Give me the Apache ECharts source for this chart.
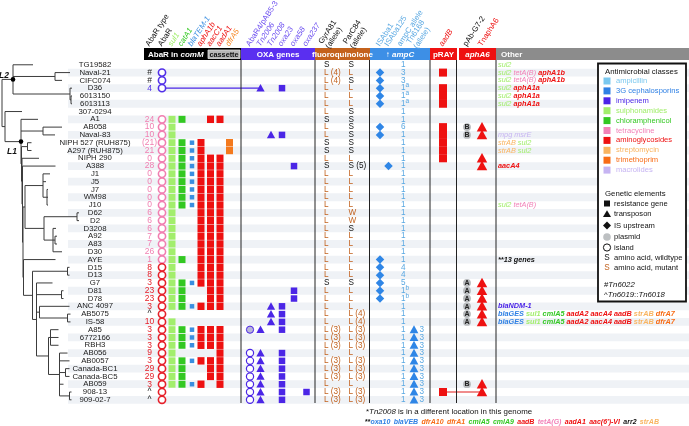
<!DOCTYPE html>
<html>
<head>
<meta charset="utf-8">
<script src="https://cdn.jsdelivr.net/npm/echarts@6/dist/echarts.min.js"></script>
<style>html,body{margin:0;padding:0;background:#fff;}#chart{width:689px;height:426px;}</style>
</head>
<body>
<div id="chart"></div>
<script>
// ================= DATA =================
const strains = ['TG19582','Naval-21','CIFC074','D36','6013150','6013113','307-0294','A1','AB058','Naval-83','NIPH 527 (RUH875)','A297 (RUH875)','NIPH 290','A388','J1','J5','J7','WM98','J10','D62','D2','D3208','A92','A83','D30','AYE','D15','D13','G7','D81','D78','ANC 4097','AB5075','IS-58','A85','6772166','RBH3','AB056','AB0057','Canada-BC1','Canada-BC5','AB059','908-13','909-02-7'];

// Tree: [name, branch length, children]
const treeBranches = ['', 0, [
  ['L2', 11, [
    ['TG19582', 20],
    ['', 42, [['Naval-21', 15], ['CIFC074', 7]]],
    ['', 57, [['D36', 2], ['', 1, [['6013150', 1], ['6013113', 1]]]]]
  ]],
  ['', 3, [
    ['307-0294', 17],
    ['L1', 16, [
      ['A1', 17],
      ['', 22, [['AB058', 19], ['Naval-83', 12]]],
      ['', 0.5, [
        ['', 6, [['NIPH 527 (RUH875)', 4], ['A297 (RUH875)', 4]]],
        ['', 0.5, [
          ['NIPH 290', 17],
          ['', 0.5, [
            ['A388', 33],
            ['', 0.5, [
              ['', 2, [
                ['', 18, [['J1', 7], ['J5', 3], ['', 4, [['J7', 1], ['WM98', 1], ['J10', 1]]]]],
                ['', 19, [['', 33, [['D62', 2], ['D2', 2]]], ['', 9, [['D3208', 3], ['', 2, [['A92', 2], ['A83', 2]]], ['D30', 9]]]]]
              ]],
              ['', 0.5, [
                ['AYE', 32],
                ['', 9, [
                  ['', 35, [['D15', 2], ['D13', 2]]],
                  ['', 4, [
                    ['G7', 16],
                    ['', 25, [['D81', 2], ['D78', 2]]],
                    ['', 3, [['ANC 4097', 30], ['', 28, [['AB5075', 3], ['IS-58', 3]]]]],
                    ['', 12, [
                      ['', 2, [['A85', 8], ['6772166', 8], ['RBH3', 8]]],
                      ['', 11, [['AB056', 8], ['AB0057', 10], ['', 6, [['Canada-BC1', 4], ['Canada-BC5', 4]]], ['AB059', 4], ['', 10, [['908-13', 2], ['909-02-7', 2]]]]]
                    ]]
                  ]]
                ]]
              ]]
            ]]
          ]]
        ]]
      ]]
    ]]
  ]]
]];

const abarType = ['','#','#','4','','','','24','10','10','(21)','21','0','28','0','0','0','0','0','6','6','6','7','7','26','1','8','8','3','23','23','3','^','10','3','3','3','9','3','29','29','3','^','^'];
// island lineage: P = purple, K = pink, R = red
const abarLineage = ['','P','P','P','','','','K','K','K','K','K','K','K','K','K','K','K','K','K','K','K','K','K','K','K','R','R','R','R','R','R','R','R','R','R','R','R','R','R','R','R','R','R'];

const abarGenes = {
  sul1:    [7,8,9,10,11,12,13,14,15,16,17,18,19,20,21,22,23,24,25,26,27,28,29,30,31,33,34,35,36,37,38,39,40,41],
  catA1:   [7,10,11,12,13,14,15,16,17,18,25,28,29,30,31,34,35,36,38,39,40,41],
  blaTEM1: [10,11,12,13,14,15,16,17,18,28,31,34,35,36,38,41],
  aphA1b:  [10,11,12,13,14,15,16,17,18,19,20,21,22,23,24,25,26,27,28,31,34,35,36,38,41],
  aacC1:   [7,12,13,14,15,16,17,18,19,20,21,22,23,24,25,26,27,28,29,30,31,34,35,36,38,39,40],
  aadA1:   [7,12,13,14,15,16,17,18,19,20,21,22,23,24,25,26,27,28,29,30,31,34,35,36,37,38,39,40,41],
  dfrA5:   [10,11]
};

const oxaIslandRows  = [37,38,39,40,41,42,43];
const oxaPlasmidRows = [34];
const tn2006Rows = [3,34,37,38,39,40,41,42,43];
const tn2008Rows = [9,31,32,33];
const oxa23Rows  = [3,9,31,32,33,34,37,38,39,40,41,42,43];
const oxa58Rows  = [13,29,30];
const oxa237Rows = [42];
const d36LinkRow = 3;

const gyrA = ['S','L (4)','L (4)','L','L','L','L','S','L','L','S','S','L','S','L','L','L','L','L','L','L','L','L','L','L','L','L','L','S','L','L','L','L','L','L (3)','L (3)','L (3)','L','L (3)','L (3)','L (3)','L','L (3)','L (3)'];
const parC = ['S','L','S','L','L','L','S','S','S','S','S','S','L','S (5)','L','L','L','L','L','W','W','S','L','L','L','L','L','L','S','L','L','L','L (4)','L (4)','L (3)','L (3)','L (3)','L','L (3)','L (3)','L (3)','L','L (3)','L (3)'];

const isAba1Rows   = [1,2,3,4,5,8,9,25,26,27,28,29,30];
const isAba125Rows = [13];
const ampCAllele = ['1','3','3','1a','1a','1a','1','1','6','1','1','1','1','1','1','1','1','1','1','1','1','1','1','1','1','1','4','4','5','1b','1b','1','1','1','1','1','1','1','1','1','1','1','1','1'];
const tn6168Rows = [34,35,36,37,38,39,40,41,42,43];
const tn6168Allele = '3';

const prayRows = [1,3,4,5,8,9,10,11,12,42];
const pAbG72 = {8:'B', 9:'B', 28:'A', 29:'A', 30:'A', 31:'A', 32:'A', 33:'A', 41:'B'};
const tnAphA6Rows = [8,9,12,13,28,29,30,31,32,33,41,42];
const prayLinkRow = 42;

const otherGenes = {
  0:  [['sul2','sul']],
  1:  [['sul2','sul'],['tetA(B)','tet'],['aphA1b','ami']],
  2:  [['sul2','sul'],['tetA(B)','tet'],['aphA1b','ami']],
  3:  [['sul2','sul'],['aphA1a','ami']],
  4:  [['sul2','sul'],['aphA1a','ami']],
  5:  [['sul2','sul'],['aphA1a','ami']],
  9:  [['mpg','mac'],['msrE','mac']],
  10: [['strAB','str'],['sul2','sul']],
  11: [['strAB','str'],['sul2','sul']],
  13: [['aacA4','ami']],
  18: [['sul2','sul'],['tetA(B)','tet']],
  25: [['**13 genes','blk']],
  31: [['blaNDM-1','imi']],
  32: [['blaGES','ceph'],['sul1','sul'],['cmlA5','chl'],['aadA2','ami'],['aacA4','ami'],['aadB','ami'],['strAB','str'],['dfrA7','tri']],
  33: [['blaGES','ceph'],['sul1','sul'],['cmlA5','chl'],['aadA2','ami'],['aacA4','ami'],['aadB','ami'],['strAB','str'],['dfrA7','tri']]
};

const abarHeaders = ['AbaR type','AbaR','sul1','catA1','blaTEM-1','aphA1b','aacC1','aadA1','dfrA5'];
const oxaHeaders  = ['AbaR4/pAB5-3','Tn2006','Tn2008','oxa23','oxa58','oxa237'];
const fqHeaders   = ['GyrA81\n(allele)','ParC84\n(allele)'];
const ampCHeaders = ['ISAba1','ISAba125','ampC allele','Tn6168\n(allele)'];
const prayHeaders = ['aadB'];
const aphA6Headers = ['pAb-G7-2','TnaphA6'];
const bandLabels = ['AbaR in comM','OXA genes','fluoroquinolone','\u2191 ampC','pRAY','aphA6','Other'];

const legendClasses = [['ampicillin','amp'],['3G cephalosporins','ceph'],['imipenem','imi'],['sulphonamides','sul'],['chloramphenicol','chl'],['tetracycline','tet'],['aminoglycosides','ami'],['streptomycin','str'],['trimethoprim','tri'],['macrolides','mac']];
const legendElements = ['resistance gene','transposon','IS upstream','plasmid','island','amino acid, wildtype','amino acid, mutant'];
const note2Genes = [['oxa10','ceph'],['blaVEB','ceph'],['dfrA10','tri'],['dfrA1','tri'],['cmlA5','chl'],['cmlA9','chl'],['aadB','ami'],['tetA(G)','tet'],['aadA1','ami'],["aac(6')-VI",'ami'],['arr2','blk'],['strAB','str']];

// ================= STYLE / LAYOUT =================
const FONT = '"Liberation Sans", Arial, Helvetica, sans-serif';
const C = { amp:'#7ac8ef', ceph:'#2f80e4', imi:'#4b24e8', sul:'#a2ee6c', chl:'#33c822', tet:'#f282b8', ami:'#ee1111', str:'#f9b460', tri:'#f86c16', mac:'#c6b4f2', blk:'#111' };
const LIN = { P:'#5230e8', K:'#f17fb1', R:'#e6202a' };
const MUT = '#c2621f';
const OXA = '#4b26e6';
const AMPC_MARK = '#2f86e6', AMPC_TXT = '#5aa8e2';
const TOP = 60.9, H = 342.8;
const col = { name:95, abarType:149.5, abar:162, sul1:172, catA1:182, blaTEM1:192, aphA1b:201, aacC1:210.5, aadA1:220, dfrA5:229.5,
  abar4:250, tn2006:260.5, tn2008:271, oxa23:282, oxa58:294, oxa237:306.5,
  gyrA:324, parC:348.5, isAba1:380, isAba125:388.5, ampC:401, tn6168:414, aadB:443, pAb:467, tnAphA6:482, other:498 };
const headerCols = {
  abar: [['abarType','#111',0],['abar','#111',0],['sul1',C.sul,1],['catA1',C.chl,1],['blaTEM1','#3a8ee0',1],['aphA1b',C.ami,1],['aacC1',C.ami,1],['aadA1',C.ami,1],['dfrA5','#f68a2a',1]],
  oxa: [['abar4','#6a4cf0',0],['tn2006','#6a4cf0',1],['tn2008','#6a4cf0',1],['oxa23','#6a4cf0',1],['oxa58','#6a4cf0',1],['oxa237','#6a4cf0',1]],
  fq: [['gyrA','#111',0],['parC','#111',0]],
  ampc: [['isAba1',AMPC_TXT,0],['isAba125',AMPC_TXT,0],['ampC',AMPC_TXT,0],['tn6168',AMPC_TXT,0]],
  pray: [['aadB',C.ami,1]],
  aph: [['pAb','#111',0],['tnAphA6',C.ami,0]]
};
const bands = [[144,97,'#000'],[241,74,'#5a2ff0'],[315,55,'#c4621c'],[370,60,'#3d8fe6'],[430,27,'#ee1111'],[459,37,'#ee1111'],[496,193,'#8c8c8c']];
const seps = [241, 315, 369.5, 430, 456.5, 496];

// ================= BUILD CELLS =================
const cells = [];
const add = o => cells.push(o);
const f = (w, s, sz) => `${s||'normal'} ${w||'normal'} ${sz}px ${FONT}`;

add({k:'hline', x:col.abar, x2:col.tn2006, row:d36LinkRow, color:OXA, lw:1.2});
add({k:'hline', x:col.aadB, x2:col.tnAphA6, row:prayLinkRow, color:'#e21a1a', lw:1.2});

strains.forEach((s, r) => {
  add({k:'text', x:col.name, row:r, text:s, color:'#1a1a1a', font:f('normal','normal',7.8), align:'center'});
  if (abarType[r]) {
    const colr = (abarType[r] === '#' || abarType[r] === '^') ? '#222' : LIN[abarLineage[r]];
    add({k:'text', x:col.abarType, row:r, text:abarType[r], color:colr, font:f('normal','normal',8.5), align:'center'});
  }
  if (abarLineage[r]) add({k:'ring', x:col.abar, row:r, r:3.6, color:LIN[abarLineage[r]], lw:1.6});
  add({k:'text', x:col.gyrA, row:r, text:gyrA[r], color:gyrA[r][0]==='S'?'#111':MUT, font:f('normal','normal',8.2)});
  add({k:'text', x:col.parC, row:r, text:parC[r], color:parC[r][0]==='S'?'#111':MUT, font:f('normal','normal',8.2)});
  const al = ampCAllele[r];
  add({k:'text', x:col.ampC, row:r, text:al[0], color:AMPC_TXT, font:f('normal','normal',8.2)});
  if (al.length > 1) add({k:'text', x:col.ampC, dx:4.6, dy:-2.6, row:r, text:al.slice(1), color:AMPC_TXT, font:f('normal','normal',6.5)});
});
const geneStyle = { sul1:[7,7,C.sul], catA1:[7,7,C.chl], blaTEM1:[4.5,4.5,'#3a8ee0'], aphA1b:[7,7.4,C.ami], aacC1:[7,7.4,C.ami], aadA1:[7,7.4,C.ami], dfrA5:[7,7.4,'#f47a1e'] };
Object.keys(abarGenes).forEach(g => abarGenes[g].forEach(r => add({k:'sq', x:col[g], row:r, w:geneStyle[g][0], h:geneStyle[g][1], color:geneStyle[g][2]})));
oxaIslandRows.forEach(r => add({k:'ring', x:col.abar4, row:r, r:3.6, color:OXA, lw:1.2}));
oxaPlasmidRows.forEach(r => add({k:'ring', x:col.abar4, row:r, r:3.6, color:OXA, lw:1.0, fill:'#b9b7d9'}));
tn2006Rows.forEach(r => add({k:'tri', x:col.tn2006, row:r, s:7.5, color:OXA}));
tn2008Rows.forEach(r => add({k:'tri', x:col.tn2008, row:r, s:7.5, color:OXA}));
oxa23Rows.forEach(r => add({k:'sq', x:col.oxa23, row:r, w:6.5, h:6.5, color:OXA}));
oxa58Rows.forEach(r => add({k:'sq', x:col.oxa58, row:r, w:6.5, h:6.5, color:OXA}));
oxa237Rows.forEach(r => add({k:'sq', x:col.oxa237, row:r, w:6.5, h:6.5, color:OXA}));
isAba1Rows.forEach(r => add({k:'dia', x:col.isAba1, row:r, s:8.5, color:AMPC_MARK}));
isAba125Rows.forEach(r => add({k:'dia', x:col.isAba125, row:r, s:8.5, color:AMPC_MARK}));
tn6168Rows.forEach(r => {
  add({k:'tri', x:col.tn6168, row:r, s:8, color:AMPC_MARK});
  add({k:'text', x:col.tn6168, dx:5.5, row:r, text:tn6168Allele, color:AMPC_TXT, font:f('normal','normal',8.2)});
});
prayRows.forEach(r => add({k:'sq', x:col.aadB, row:r, w:8, h:8, color:'#ee1111'}));
tnAphA6Rows.forEach(r => add({k:'tri', x:col.tnAphA6, row:r, s:9.5, color:'#ee1111'}));
Object.keys(pAbG72).forEach(r => add({k:'badge', x:col.pAb, row:+r, text:pAbG72[r]}));

function richFor(bold, size) {
  const rich = {};
  Object.keys(C).forEach(k => {
    rich[k] = {fill:C[k], fontSize:size, fontFamily:FONT, fontStyle:'italic', fontWeight:(k==='ami'||bold)?'bold':'normal'};
  });
  return rich;
}
const boldRows = {25:1, 31:1, 32:1, 33:1};
Object.keys(otherGenes).forEach(r => {
  const toks = otherGenes[r];
  const text = toks.map(t => `{${t[1]}|${t[0]}}`).join(' ');
  add({k:'text', x:col.other, row:+r, text, rich:richFor(!!boldRows[r], 7.3), color:'#111', font:f('normal','italic',7.3)});
});

const stripeRows = strains.map((s, i) => i).filter(i => i % 2 === 1);

// ================= TREE LAYOUT =================
const segs = [], named = {};
(function lay(node, x0) {
  const name = node[0], len = node[1], kids = node[2];
  const x = x0 + len;
  if (!kids) return {x, y: strains.indexOf(name)};
  const ch = kids.map(k => lay(k, x));
  const y = (ch[0].y + ch[ch.length - 1].y) / 2;
  segs.push([x, ch[0].y, x, ch[ch.length - 1].y]);
  ch.forEach(c => segs.push([x, c.y, c.x, c.y]));
  if (name) named[name] = {x, y};
  return {x, y};
})(treeBranches, 0);

// ================= GRAPHICS (header, legend, notes) =================
const gfx = [];
bands.forEach(b => gfx.push({type:'rect', shape:{x:b[0], y:48, width:b[1], height:12}, style:{fill:b[2]}}));
const wRich = {n:{fill:'#fff', fontWeight:'bold', fontSize:8, fontFamily:FONT}, i:{fill:'#fff', fontWeight:'bold', fontStyle:'italic', fontSize:8, fontFamily:FONT}};
const bandText = (x, t, align, rich) => gfx.push({type:'text', x, y:54.5, style:{text:t, fill:'#fff', font:f('bold','normal',8), align, verticalAlign:'middle', rich}});
bandText(148, '{n|AbaR in }{i|comM}', 'left', wRich);
gfx.push({type:'rect', shape:{x:208, y:50, width:32, height:8.5}, style:{fill:'#b8b8b8', stroke:'#e0e0e0', lineWidth:0.8}});
gfx.push({type:'text', x:224, y:54.5, style:{text:'cassette', fill:'#111', font:f('bold','normal',7.3), align:'center', verticalAlign:'middle'}});
bandText(278, bandLabels[1], 'center');
bandText(342.5, bandLabels[2], 'center');
bandText(400, '{n|\u2191 }{i|ampC}', 'center', wRich);
bandText(443.5, bandLabels[4], 'center');
gfx.push({type:'text', x:477.5, y:54.5, style:{text:bandLabels[5], fill:'#fff', font:f('bold','italic',8), align:'center', verticalAlign:'middle'}});
bandText(501, bandLabels[6], 'left');
seps.forEach(x => gfx.push({type:'line', shape:{x1:x, y1:60, x2:x, y2:403}, style:{stroke:'#222', lineWidth:1}}));

const ROT = 57 * Math.PI / 180;
const headerGroups = [[abarHeaders, headerCols.abar], [oxaHeaders, headerCols.oxa], [fqHeaders, headerCols.fq], [ampCHeaders, headerCols.ampc], [prayHeaders, headerCols.pray], [aphA6Headers, headerCols.aph]];
headerGroups.forEach(([labels, cols]) => labels.forEach((t, i) => {
  const [key, color, ital] = cols[i];
  let x = col[key];
  if (key === 'gyrA' || key === 'parC') x += 2;
  gfx.push({type:'text', x:x - 2, y:45.5, rotation:ROT, style:{text:t, fill:color, font:f('normal', ital?'italic':'normal', 7.8), align:'left', verticalAlign:'middle', lineHeight:8.5}});
}));

gfx.push({type:'rect', shape:{x:598, y:63.5, width:88, height:238}, style:{fill:'#fff', stroke:'#111', lineWidth:1.8}});
gfx.push({type:'text', x:605, y:72, style:{text:'Antimicrobial classes', fill:'#111', font:f('normal','normal',7.8), verticalAlign:'middle'}});
legendClasses.forEach((lc, i) => {
  const y = 81 + i * 9.9;
  gfx.push({type:'rect', shape:{x:603.5, y:y - 3.5, width:7, height:7}, style:{fill:C[lc[1]]}});
  gfx.push({type:'text', x:616, y, style:{text:lc[0], fill:C[lc[1]], font:f('normal','normal',7.6), verticalAlign:'middle'}});
});
gfx.push({type:'text', x:605, y:193.5, style:{text:'Genetic elements', fill:'#111', font:f('normal','normal',7.8), verticalAlign:'middle'}});
const ey = [203.5, 214, 225.5, 237, 247.5, 257.5, 267.5];
gfx.push({type:'rect', shape:{x:604, y:ey[0]-3, width:6, height:6}, style:{fill:'#111'}});
gfx.push({type:'polygon', shape:{points:[[607,ey[1]-3.8],[611,ey[1]+3],[603,ey[1]+3]]}, style:{fill:'#111'}});
gfx.push({type:'polygon', shape:{points:[[607,ey[2]-4],[611,ey[2]],[607,ey[2]+4],[603,ey[2]]]}, style:{fill:'#111'}});
gfx.push({type:'circle', shape:{cx:607, cy:ey[3], r:3.8}, style:{fill:'#bdc0c2'}});
gfx.push({type:'circle', shape:{cx:607, cy:ey[4], r:3.6}, style:{fill:'#fff', stroke:'#111', lineWidth:1}});
gfx.push({type:'text', x:607, y:ey[5], style:{text:'S', fill:'#111', font:f('normal','normal',8.2), align:'center', verticalAlign:'middle'}});
gfx.push({type:'text', x:607, y:ey[6], style:{text:'S', fill:MUT, font:f('normal','normal',8.2), align:'center', verticalAlign:'middle'}});
legendElements.forEach((t, i) => gfx.push({type:'text', x:614, y:ey[i], style:{text:t, fill:'#111', font:f('normal','normal',7.6), verticalAlign:'middle'}}));
const itRich = {n:{fill:'#111', fontSize:7.8, fontFamily:FONT}, i:{fill:'#111', fontSize:7.8, fontFamily:FONT, fontStyle:'italic'}};
gfx.push({type:'text', x:604, y:284.5, style:{text:'{n|#}{i|Tn6022}', rich:itRich, verticalAlign:'middle'}});
gfx.push({type:'text', x:604, y:295, style:{text:'{n|^}{i|Tn6019}{n|::}{i|Tn6018}', rich:itRich, verticalAlign:'middle'}});

gfx.push({type:'text', x:366, y:412, style:{text:'{n|*}{i|Tn2008}{n| is in a different location in this genome}', rich:{n:{fill:'#111', fontSize:7.9, fontFamily:FONT}, i:{fill:'#111', fontSize:7.9, fontFamily:FONT, fontStyle:'italic'}}, verticalAlign:'middle'}});
const n2rich = richFor(true, 7); n2rich.s = {fill:'#111', fontSize:7, fontFamily:FONT, fontWeight:'bold'};
gfx.push({type:'text', x:365, y:422, style:{text:'{s|**}' + note2Genes.map(t => `{${t[1]}|${t[0]}}`).join(' '), rich:n2rich, verticalAlign:'middle'}});

// ================= CHART =================
const chart = echarts.init(document.getElementById('chart'), null, {renderer:'canvas'});
chart.setOption({
  animation: false,
  backgroundColor: '#fff',
  grid: [
    {left:0, right:0, top:TOP, height:H, containLabel:false},
    {left:2, width:100, top:TOP, height:H, containLabel:false}
  ],
  xAxis: [
    {type:'value', min:0, max:689, show:false, gridIndex:0},
    {type:'value', min:0, max:100, show:false, gridIndex:1}
  ],
  yAxis: [
    {type:'category', data:strains, inverse:true, gridIndex:0, show:false},
    {type:'value', min:-0.5, max:43.5, inverse:true, show:false, gridIndex:1}
  ],
  series: [
    {type:'custom', xAxisIndex:0, yAxisIndex:0, z:1, silent:true,
     data: stripeRows.map(r => [0, r]),
     renderItem: (params, api) => {
       const p = api.coord([68, api.value(1)]);
       const h = api.size([0, 1])[1];
       return {type:'rect', shape:{x:p[0], y:p[1] - h/2, width:689 - p[0], height:h}, style:{fill:'#eff2f6'}};
     }},
    {type:'custom', xAxisIndex:1, yAxisIndex:1, z:5, silent:true, data:[[0,0]],
     renderItem: (params, api) => {
       const children = segs.map(s => {
         const a = api.coord([s[0], s[1]]), b = api.coord([s[2], s[3]]);
         return {type:'line', shape:{x1:a[0], y1:a[1], x2:b[0], y2:b[1]}, style:{stroke:'#3c3c3c', lineWidth:1}};
       });
       ['L2','L1'].forEach(n => {
         const p = api.coord([named[n].x, named[n].y]);
         children.push({type:'circle', shape:{cx:p[0], cy:p[1], r:2.3}, style:{fill:'#000'}});
         children.push({type:'text', x:p[0] - 4, y:p[1] + (n==='L2'?-4:10), style:{text:n, fill:'#111', font:f('bold','italic',8.5), align:'right', verticalAlign:'middle'}});
       });
       return {type:'group', children};
     }},
    {type:'custom', xAxisIndex:0, yAxisIndex:0, z:6, silent:true,
     data: cells.map(c => [c.x, c.row]),
     renderItem: (params, api) => {
       const c = cells[params.dataIndex];
       const p = api.coord([c.x, c.row]);
       const x = p[0], y = p[1];
       switch (c.k) {
         case 'sq': return {type:'rect', shape:{x:x - c.w/2, y:y - c.h/2, width:c.w, height:c.h}, style:{fill:c.color}};
         case 'ring': return {type:'circle', shape:{cx:x, cy:y, r:c.r}, style:{fill:c.fill || '#fff', stroke:c.color, lineWidth:c.lw}};
         case 'tri': { const s = c.s; return {type:'polygon', shape:{points:[[x, y - s*0.55], [x + s*0.55, y + s*0.45], [x - s*0.55, y + s*0.45]]}, style:{fill:c.color}}; }
         case 'dia': { const s = c.s/2; return {type:'polygon', shape:{points:[[x, y - s], [x + s, y], [x, y + s], [x - s, y]]}, style:{fill:c.color}}; }
         case 'badge': return {type:'group', children:[
             {type:'circle', shape:{cx:x, cy:y, r:3.9}, style:{fill:'#b7babd'}},
             {type:'text', x:x, y:y + 0.3, style:{text:c.text, fill:'#222', font:f('bold','normal',7), align:'center', verticalAlign:'middle'}}]};
         case 'hline': { const q = api.coord([c.x2, c.row]); return {type:'line', shape:{x1:x, y1:y, x2:q[0], y2:q[1]}, style:{stroke:c.color, lineWidth:c.lw}}; }
         default: return {type:'text', x:x + (c.dx || 0), y:y + (c.dy || 0), style:{text:c.text, fill:c.color, font:c.font, align:c.align || 'left', verticalAlign:'middle', rich:c.rich}};
       }
     }}
  ],
  graphic: gfx.map(g => Object.assign({z:20}, g))
});
</script>
</body>
</html>
